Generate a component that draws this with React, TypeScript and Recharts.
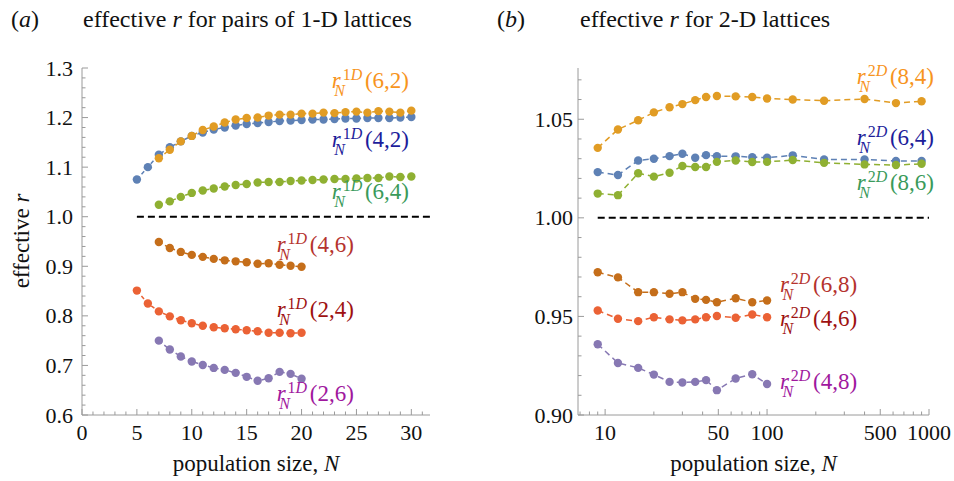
import React from 'react';
import { LineChart, Line, XAxis, YAxis, ReferenceDot, ReferenceLine } from 'recharts';

const SERIF = 'Liberation Serif';
const AXIS = '#9a9a9a';

// ---- panel (a): pairs of 1-D lattices ----
const N_5_30 = [5, 6, 7, 8, 9, 10, 11, 12, 13, 14, 15, 16, 17, 18, 19, 20, 21, 22, 23, 24, 25, 26, 27, 28, 29, 30];
const N_7_30 = [7, 8, 9, 10, 11, 12, 13, 14, 15, 16, 17, 18, 19, 20, 21, 22, 23, 24, 25, 26, 27, 28, 29, 30];
const N_5_20 = [5, 6, 7, 8, 9, 10, 11, 12, 13, 14, 15, 16, 17, 18, 19, 20];
const N_7_20 = [7, 8, 9, 10, 11, 12, 13, 14, 15, 16, 17, 18, 19, 20];

const R1D_42 = [1.075, 1.1, 1.125, 1.14, 1.152, 1.163, 1.17, 1.176, 1.18, 1.184, 1.187, 1.189, 1.191, 1.193, 1.194, 1.195, 1.196, 1.196, 1.197, 1.198, 1.198, 1.199, 1.199, 1.199, 1.2, 1.201];
const R1D_62 = [1.118, 1.135, 1.152, 1.163, 1.175, 1.182, 1.19, 1.196, 1.199, 1.2, 1.204, 1.206, 1.206, 1.208, 1.208, 1.21, 1.209, 1.211, 1.212, 1.21, 1.213, 1.212, 1.21, 1.214];
const R1D_64 = [1.024, 1.031, 1.04, 1.048, 1.053, 1.057, 1.061, 1.064, 1.066, 1.069, 1.07, 1.07, 1.072, 1.073, 1.074, 1.075, 1.076, 1.076, 1.077, 1.078, 1.078, 1.081, 1.08, 1.081];
const R1D_46 = [0.949, 0.937, 0.929, 0.923, 0.919, 0.915, 0.912, 0.91, 0.908, 0.905, 0.906, 0.903, 0.901, 0.899];
const R1D_24 = [0.851, 0.825, 0.809, 0.799, 0.791, 0.785, 0.78, 0.777, 0.775, 0.773, 0.771, 0.769, 0.766, 0.766, 0.765, 0.766];
const R1D_26 = [0.75, 0.732, 0.718, 0.708, 0.701, 0.695, 0.691, 0.685, 0.677, 0.669, 0.674, 0.687, 0.683, 0.673];

const A_X_MAJOR = [0, 5, 10, 15, 20, 25, 30];
const A_X_MINOR = [1, 2, 3, 4, 6, 7, 8, 9, 11, 12, 13, 14, 16, 17, 18, 19, 21, 22, 23, 24, 26, 27, 28, 29, 31];
const A_Y_MAJOR = [0.6, 0.7, 0.8, 0.9, 1.0, 1.1, 1.2, 1.3];
const A_Y_MINOR = [0.62, 0.64, 0.66, 0.68, 0.72, 0.74, 0.76, 0.78, 0.82, 0.84, 0.86, 0.88, 0.92, 0.94, 0.96, 0.98,
  1.02, 1.04, 1.06, 1.08, 1.12, 1.14, 1.16, 1.18, 1.22, 1.24, 1.26, 1.28];

// ---- panel (b): 2-D lattices ----
const N_2D_LONG = [9, 12, 16, 20, 25, 30, 36, 42, 49, 64, 81, 100, 144, 225, 400, 625, 900];
const N_2D_SHORT = [9, 12, 16, 20, 25, 30, 36, 42, 49, 64, 81, 100];

const R2D_84 = [1.0355, 1.0448, 1.0495, 1.0535, 1.0561, 1.0577, 1.0597, 1.0613, 1.0618, 1.0616, 1.0613, 1.0605, 1.06, 1.0594, 1.0603, 1.0582, 1.0591];
const R2D_64 = [1.0232, 1.0217, 1.0291, 1.03, 1.0313, 1.0325, 1.0305, 1.0318, 1.0313, 1.0312, 1.0308, 1.0305, 1.0317, 1.0296, 1.0296, 1.0288, 1.0288];
const R2D_86 = [1.0123, 1.0115, 1.0226, 1.0209, 1.0229, 1.0263, 1.0258, 1.0258, 1.0284, 1.0291, 1.0283, 1.0284, 1.0293, 1.0279, 1.0271, 1.0268, 1.0274];
const R2D_68 = [0.9724, 0.9698, 0.9623, 0.9623, 0.9615, 0.9623, 0.9589, 0.9584, 0.9572, 0.9592, 0.9572, 0.9581];
const R2D_46 = [0.953, 0.9488, 0.9476, 0.9496, 0.9485, 0.948, 0.9485, 0.9496, 0.9502, 0.9493, 0.951, 0.9496];
const R2D_48 = [0.9359, 0.9264, 0.9239, 0.9205, 0.9168, 0.9165, 0.9168, 0.9177, 0.9126, 0.9185, 0.9207, 0.9157];

const B_X_MAJOR = [10, 50, 100, 500, 1000];
const B_X_MINOR = [7, 8, 9, 20, 30, 40, 60, 70, 80, 90, 200, 300, 400, 600, 700, 800, 900];
const B_Y_MAJOR = [0.9, 0.95, 1.0, 1.05];
const B_Y_MINOR = [0.91, 0.92, 0.93, 0.94, 0.96, 0.97, 0.98, 0.99, 1.01, 1.02, 1.03, 1.04, 1.06, 1.07];

// Mathematica default palette
const C_BLUE = '#5E81B5';
const C_ORANGE = '#E19C24';
const C_GREEN = '#8FB032';
const C_RED = '#EB6235';
const C_PURPLE = '#8778B3';
const C_BROWN = '#C56E1A';

const zip = (ns: number[], vs: number[]) => ns.map((n, i) => ({ n, v: vs[i] }));

const seriesA = [
  { key: 'a42', data: zip(N_5_30, R1D_42), color: C_BLUE },
  { key: 'a62', data: zip(N_7_30, R1D_62), color: C_ORANGE },
  { key: 'a64', data: zip(N_7_30, R1D_64), color: C_GREEN },
  { key: 'a46', data: zip(N_7_20, R1D_46), color: C_BROWN },
  { key: 'a24', data: zip(N_5_20, R1D_24), color: C_RED },
  { key: 'a26', data: zip(N_7_20, R1D_26), color: C_PURPLE },
];

const seriesB = [
  { key: 'b84', data: zip(N_2D_LONG, R2D_84), color: C_ORANGE },
  { key: 'b64', data: zip(N_2D_LONG, R2D_64), color: C_BLUE },
  { key: 'b86', data: zip(N_2D_LONG, R2D_86), color: C_GREEN },
  { key: 'b68', data: zip(N_2D_SHORT, R2D_68), color: C_BROWN },
  { key: 'b46', data: zip(N_2D_SHORT, R2D_46), color: C_RED },
  { key: 'b48', data: zip(N_2D_SHORT, R2D_48), color: C_PURPLE },
];

// label anchors (data coords: left of "r", text baseline)
const tagsA = [
  { pair: '6,2', n: 22.75, v: 1.259, color: '#F7941D' },
  { pair: '4,2', n: 22.75, v: 1.14, color: '#1D1D9B' },
  { pair: '6,4', n: 22.75, v: 1.036, color: '#3A9A5A' },
  { pair: '4,6', n: 17.73, v: 0.928, color: '#B5332E' },
  { pair: '2,4', n: 17.73, v: 0.797, color: '#9E1111' },
  { pair: '2,6', n: 17.73, v: 0.628, color: '#A0189E' },
];
const tagsB = [
  { pair: '8,4', n: 358, v: 1.0679, color: '#F7941D' },
  { pair: '6,4', n: 358, v: 1.0367, color: '#1D1D9B' },
  { pair: '8,6', n: 358, v: 1.014, color: '#3A9A5A' },
  { pair: '6,8', n: 120, v: 0.9626, color: '#B5332E' },
  { pair: '4,6', n: 120, v: 0.9449, color: '#9E1111' },
  { pair: '4,8', n: 120, v: 0.913, color: '#A0189E' },
];

// one text element: r, superscript "1D", subscript N under it, then "(i,j)"
const SeriesTag = ({ cx, cy, dim, pair, color }: any) => (
  <text x={cx} y={cy} fill={color} fontFamily={SERIF} fontSize={23}>
    <tspan fontStyle="italic">r</tspan>
    <tspan dx={2} dy={-8} fontSize={16}>{dim}</tspan>
    <tspan fontSize={16} fontStyle="italic">D</tspan>
    <tspan dx={-28} dy={16} fontSize={16} fontStyle="italic">N</tspan>
    <tspan dx={20} dy={-8}>({pair})</tspan>
  </text>
);

const Tick = (props: any) => {
  const { x, y, payload, side, majors, fmt, gap } = props;
  const v = payload.value;
  const major = majors.some((m: number) => Math.abs(m - v) < 1e-6);
  const len = major ? 6 : 3.5;
  if (side === 'x') {
    return (
      <g>
        <line x1={x} x2={x} y1={y} y2={y - len} stroke={AXIS} />
        {major && (
          <text x={x} y={y + 25} textAnchor="middle" fill="#111" fontFamily={SERIF} fontSize={22}>
            {fmt(v)}
          </text>
        )}
      </g>
    );
  }
  return (
    <g>
      <line x1={x} x2={x + len} y1={y} y2={y} stroke={AXIS} />
      {major && (
        <text x={x - gap} y={y + 7.5} textAnchor="end" fill="#111" fontFamily={SERIF} fontSize={22}>
          {fmt(v)}
        </text>
      )}
    </g>
  );
};

const abs = (left: number, top: number, extra: React.CSSProperties = {}): React.CSSProperties => ({
  position: 'absolute', left, top, fontFamily: SERIF, fontSize: 24, lineHeight: '24px', color: '#111', whiteSpace: 'nowrap', ...extra,
});

export default function App() {
  return (
    <div style={{ position: 'absolute', left: 0, top: 0, width: 954, height: 481, background: '#fff', overflow: 'hidden' }}>
      {/* titles */}
      <div style={abs(11, 7)}>(<i>a</i>)</div>
      <div style={abs(83, 7)}>effective <i>r</i> for pairs of 1-D lattices</div>
      <div style={abs(497, 7)}>(<i>b</i>)</div>
      <div style={abs(580, 7)}>effective <i>r</i> for 2-D lattices</div>

      {/* axis titles */}
      <div style={abs(82, 452, { width: 348, textAlign: 'center', fontSize: 23 })}>population size, <i>N</i></div>
      <div style={abs(578, 452, { width: 351, textAlign: 'center', fontSize: 23 })}>population size, <i>N</i></div>
      <div style={abs(22, 241, { fontSize: 23, transform: 'translate(-50%, -50%) rotate(-90deg)' })}>effective <i>r</i></div>

      {/* (a) */}
      <div style={{ position: 'absolute', left: 0, top: 0 }}>
        <LineChart width={477} height={481} margin={{ top: 68, right: 47, bottom: 36, left: 42 }}>
          <XAxis type="number" dataKey="n" domain={[0, 31.7]} allowDataOverflow ticks={[...A_X_MAJOR, ...A_X_MINOR]} interval={0}
            height={30} tickSize={0} tickMargin={0} tickLine={false} axisLine={{ stroke: AXIS }}
            tick={<Tick side="x" majors={A_X_MAJOR} fmt={(v: number) => String(v)} />} />
          <YAxis type="number" domain={[0.6, 1.3]} allowDataOverflow ticks={[...A_Y_MAJOR, ...A_Y_MINOR]} interval={0}
            width={40} tickSize={0} tickMargin={0} tickLine={false} axisLine={{ stroke: AXIS }}
            tick={<Tick side="y" gap={9} majors={A_Y_MAJOR} fmt={(v: number) => v.toFixed(1)} />} />
          <ReferenceLine segment={[{ x: 5, y: 1 }, { x: 31.7, y: 1 }]} stroke="#000" strokeWidth={2} strokeDasharray="7 4" />
          {seriesA.map((s) => (
            <Line key={s.key} data={s.data} dataKey="v" type="linear" stroke={s.color} strokeWidth={1.5} strokeDasharray="4 3"
              dot={{ r: 4.2, fill: s.color, stroke: 'none' }} activeDot={false} isAnimationActive={false} />
          ))}
          {tagsA.map((t) => (
            <ReferenceDot key={t.pair} x={t.n} y={t.v} r={0}
              shape={(p: any) => <SeriesTag cx={p.cx} cy={p.cy} dim="1" pair={t.pair} color={t.color} />} />
          ))}
        </LineChart>
      </div>

      {/* (b) */}
      <div style={{ position: 'absolute', left: 477, top: 0 }}>
        <LineChart width={477} height={481} margin={{ top: 68, right: 25, bottom: 36, left: 61 }}>
          <XAxis type="number" dataKey="n" scale="log" domain={[6.8, 1000]} allowDataOverflow ticks={[...B_X_MAJOR, ...B_X_MINOR]} interval={0}
            height={30} tickSize={0} tickMargin={0} tickLine={false} axisLine={{ stroke: AXIS }}
            tick={<Tick side="x" majors={B_X_MAJOR} fmt={(v: number) => String(v)} />} />
          <YAxis type="number" domain={[0.9, 1.076]} allowDataOverflow ticks={[...B_Y_MAJOR, ...B_Y_MINOR]} interval={0}
            width={40} tickSize={0} tickMargin={0} tickLine={false} axisLine={{ stroke: AXIS }}
            tick={<Tick side="y" gap={5} majors={B_Y_MAJOR} fmt={(v: number) => v.toFixed(2)} />} />
          <ReferenceLine segment={[{ x: 9, y: 1 }, { x: 1000, y: 1 }]} stroke="#000" strokeWidth={2} strokeDasharray="7 4" />
          {seriesB.map((s) => (
            <Line key={s.key} data={s.data} dataKey="v" type="linear" stroke={s.color} strokeWidth={1.5} strokeDasharray="6 4"
              dot={{ r: 4.2, fill: s.color, stroke: 'none' }} activeDot={false} isAnimationActive={false} />
          ))}
          {tagsB.map((t) => (
            <ReferenceDot key={t.pair} x={t.n} y={t.v} r={0}
              shape={(p: any) => <SeriesTag cx={p.cx} cy={p.cy} dim="2" pair={t.pair} color={t.color} />} />
          ))}
        </LineChart>
      </div>
    </div>
  );
}
